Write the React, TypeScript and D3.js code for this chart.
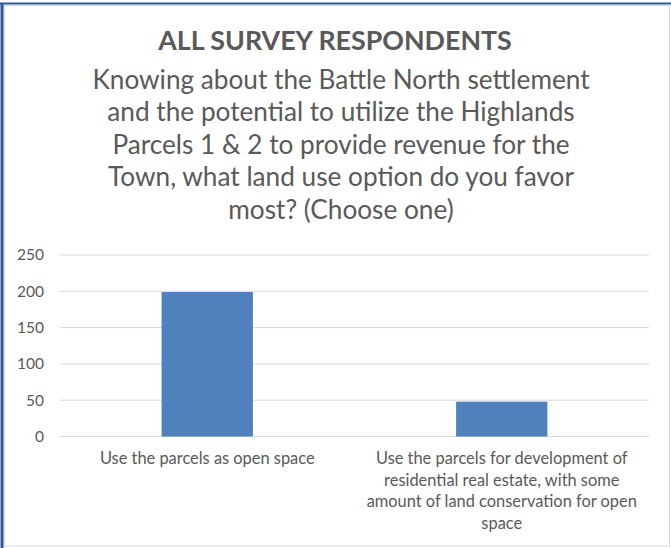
import React from "react";
import * as d3 from "d3";

const categories = [
  ["Use the parcels as open space"],
  [
    "Use the parcels for development of",
    "residential real estate, with some",
    "amount of land conservation for open",
    "space",
  ],
];
const values = [199, 48];
const yTicks = [0, 50, 100, 150, 200, 250];
const title = "ALL SURVEY RESPONDENTS";
const subtitle = [
  "Knowing about the Battle North settlement",
  "and the potential to utilize the Highlands",
  "Parcels 1 & 2 to provide revenue for the",
  "Town, what land use option do you favor",
  "most? (Choose one)",
];

const W = 671;
const H = 548;
const FONT = "Lato, 'Open Sans', sans-serif";
const TEXT = "#595959";

export default function App() {
  const x = d3
    .scaleBand<number>()
    .domain(d3.range(values.length))
    .range([60, 649])
    .paddingInner(0.69)
    .paddingOuter(0.345);
  const y = d3.scaleLinear().domain([0, 250]).range([436.5, 255]);

  return (
    <div style={{ position: "fixed", left: 0, top: 0 }}>
      <svg width={W} height={H} style={{ display: "block", background: "#fff" }}>
        <rect x={0} y={0} width={W} height={H} fill="#fff" />
        {/* inner frame */}
        <rect x={4.5} y={5.5} width={665} height={540.5} fill="none" stroke="#d9d9d9" strokeWidth={1} />
        {/* outer blue frame left/top */}
        <line x1={2} y1={3.5} x2={2} y2={H} stroke="#2f5597" strokeWidth={3} />
        <line x1={0} y1={3.5} x2={W} y2={3.5} stroke="#2f5597" strokeWidth={2} />

        <text
          x={335}
          y={49.5}
          textAnchor="middle"
          fontFamily={FONT}
          fontWeight="bold"
          fontSize={26.8}
          fill={TEXT}
        >
          {title}
        </text>
        {subtitle.map((s, i) => (
          <text
            key={i}
            x={341}
            y={88.5 + i * 32.5}
            textAnchor="middle"
            fontFamily={FONT}
            fontSize={26.2}
            fill={TEXT}
          >
            {s}
          </text>
        ))}

        {yTicks.map((t) => (
          <g key={t}>
            <line x1={60} x2={649} y1={y(t)} y2={y(t)} stroke="#d9d9d9" strokeWidth={1} />
            <text
              x={44}
              y={y(t)}
              dy="0.35em"
              textAnchor="end"
              fontFamily={FONT}
              fontSize={15.5}
              fill={TEXT}
            >
              {t}
            </text>
          </g>
        ))}

        {values.map((v, i) => (
          <rect
            key={i}
            x={x(i)}
            y={y(v)}
            width={x.bandwidth()}
            height={y(0) - y(v)}
            fill="#4f81bd"
          />
        ))}

        {categories.map((lines, i) =>
          lines.map((l, j) => (
            <text
              key={i + "-" + j}
              x={(x(i) as number) + x.bandwidth() / 2}
              y={464 + j * 21.5}
              textAnchor="middle"
              fontFamily={FONT}
              fontSize={16.4}
              fill={TEXT}
            >
              {l}
            </text>
          ))
        )}
      </svg>
    </div>
  );
}
